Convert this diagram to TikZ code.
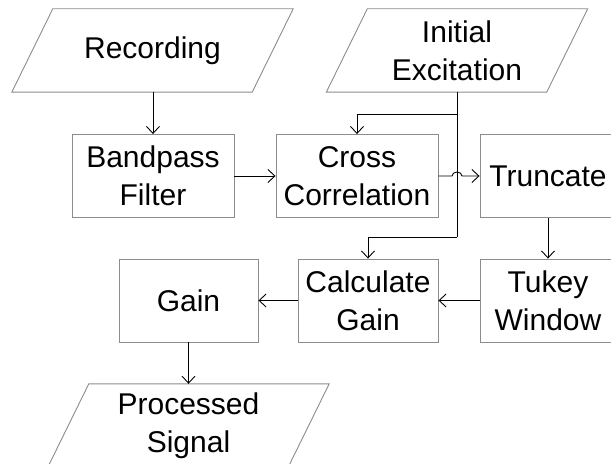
\documentclass[tikz,border=0pt]{standalone}
\usepackage{fontspec}
\setmainfont{Liberation Sans}
\usetikzlibrary{arrows.meta,calc}
\definecolor{edgegray}{rgb}{0.55,0.55,0.55}
\begin{document}
\begin{tikzpicture}[
    x=1bp, y=-1bp,
    font=\fontsize{30bp}{38bp}\selectfont,
    stepbox/.style={draw=edgegray, line width=0.9bp, minimum height=83bp,
                    inner sep=2bp, align=center},
    iobox/.style={minimum height=83bp, inner sep=0pt, align=center},
    flow/.style={draw=black, line width=0.9bp,
                 -{Straight Barb[length=7bp,width=13bp,line width=0.9bp]}},
    wire/.style={draw=black, line width=0.9bp}
  ]
  \useasboundingbox (0,0) rectangle (611,464);

  % input / output nodes (parallelograms drawn around them below)
  \node[iobox, minimum width=240bp] (rec) at (152.5,50.5) {Recording};
  \node[iobox, minimum width=220bp] (ie)  at (457,50.5) {Initial\\Excitation};
  \node[iobox, minimum width=240bp] (ps)  at (188.5,425.5) {Processed\\Signal};

  \foreach \n in {rec,ie,ps}{
    \draw[edgegray, line width=0.9bp]
      ([xshift=20.5bp]\n.north west) -- ([xshift=20.5bp]\n.north east) --
      ([xshift=-20.5bp]\n.south east) -- ([xshift=-20.5bp]\n.south west) -- cycle;
  }

  % processing steps
  \node[stepbox, minimum width=162bp] (bp) at (153,176) {Bandpass\\Filter};
  \node[stepbox, minimum width=162bp] (cc) at (357,176) {Cross\\Correlation};
  \node[stepbox, minimum width=136bp] (tr) at (548,176) {Truncate};
  \node[stepbox, minimum width=136bp] (tw) at (548,300.5) {Tukey\\Window};
  \node[stepbox, minimum width=140bp] (cg) at (368,300.5) {Calculate\\Gain};
  \node[stepbox, minimum width=139bp] (gn) at (188.5,300.5) {Gain};

  % main signal path
  \draw[flow] (rec.south -| bp.north) -- (bp.north);
  \draw[flow] (bp.east) -- (cc.west);
  \coordinate (hop) at (cc.east -| ie.south);
  \draw[flow] (cc.east) -- ([xshift=-5bp]hop)
    arc[start angle=180, end angle=0, x radius=5bp, y radius=4bp] -- (tr.west);
  \draw[flow] (tr.south) -- (tw.north);
  \draw[flow] (tw.west) -- (cg.east);
  \draw[flow] (cg.west) -- (gn.east);
  \draw[flow] (gn.south) -- (ps.north -| gn.south);

  % excitation feed to correlation and gain calculation
  \coordinate (j1) at ($(ie.south)+(0,22)$);
  \coordinate (j2) at ($(ie.south)+(0,145)$);
  \draw[wire] (ie.south) -- (j2);
  \draw[flow] (j1) -| (cc.north);
  \draw[flow] (j2) -| (cg.north);
\end{tikzpicture}
\end{document}
